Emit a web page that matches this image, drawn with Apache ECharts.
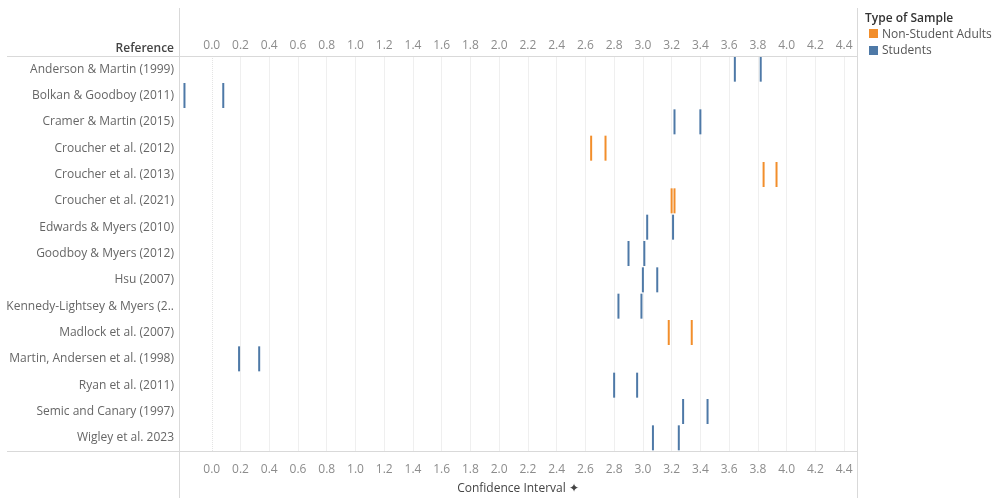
<!DOCTYPE html>
<html>
<head>
<meta charset="utf-8">
<script src="https://cdn.jsdelivr.net/npm/echarts@6/dist/echarts.min.js"></script>
<style>html,body{margin:0;padding:0;background:#fff;}#c{width:997px;height:498px;}</style>
</head>
<body>
<div id="c"></div>
<script>
var categories = ["Anderson & Martin (1999)","Bolkan & Goodboy (2011)","Cramer & Martin (2015)","Croucher et al. (2012)","Croucher et al. (2013)","Croucher et al. (2021)","Edwards & Myers (2010)","Goodboy & Myers (2012)","Hsu (2007)","Kennedy-Lightsey & Myers (2..","Madlock et al. (2007)","Martin, Andersen et al. (1998)","Ryan et al. (2011)","Semic and Canary (1997)","Wigley et al. 2023"];
var lowValues  = [3.64,-0.19,3.22,2.64,3.84,3.20,3.03,2.90,3.00,2.83,3.18,0.19,2.80,3.28,3.07];
var highValues = [3.82, 0.08,3.40,2.74,3.93,3.22,3.21,3.01,3.10,2.99,3.34,0.33,2.96,3.45,3.25];
var sampleType = ["Students","Students","Students","Non-Student Adults","Non-Student Adults","Non-Student Adults","Students","Students","Students","Students","Non-Student Adults","Students","Students","Students","Students"];
var typeNames = ["Non-Student Adults","Students"];
var typeColors = ["#F28E2B","#4E79A7"];
var tickValues = [0.0,0.2,0.4,0.6,0.8,1.0,1.2,1.4,1.6,1.8,2.0,2.2,2.4,2.6,2.8,3.0,3.2,3.4,3.6,3.8,4.0,4.2,4.4];

var FONT = "'Open Sans', sans-serif";
function pts(t){
  var d=[];
  for(var i=0;i<categories.length;i++){
    if(sampleType[i]===t){ d.push([lowValues[i],categories[i]]); d.push([highValues[i],categories[i]]); }
  }
  return d;
}
function fmt(v){
  for(var i=0;i<tickValues.length;i++){ if(Math.abs(v-tickValues[i])<1e-6) return tickValues[i].toFixed(1); }
  return '';
}
function xAxisDef(pos, margin){
  return {
    type:'value', min:-0.228, max:4.49, splitNumber:23, position:pos,
    axisLine:{show:false}, axisTick:{show:false}, splitLine:{show:false},
    axisLabel:{formatter:fmt, color:'#8c8c8c', fontFamily:FONT, fontSize:12, margin:margin, showMinLabel:false, showMaxLabel:false}
  };
}
var bottomAxis = xAxisDef('bottom', 13);
bottomAxis.name = 'Confidence Interval ✦';
bottomAxis.nameLocation = 'middle';
bottomAxis.nameGap = 32;
bottomAxis.nameTextStyle = {color:'#444', fontFamily:FONT, fontSize:12};

var gridLines = tickValues.map(function(v){
  return {xAxis:v, lineStyle:{color: v===0 ? '#e4e4e4' : '#efefef', type: v===0 ? 'dotted' : 'solid', width:1}};
});

var series = typeNames.map(function(t,i){
  return {type:'scatter', name:t, xAxisIndex:0, data:pts(t), symbol:'rect', symbolSize:[2,25],
    itemStyle:{color:typeColors[i], opacity:1}, z:3};
});
series[0].markLine = {silent:true, symbol:['none','none'], label:{show:false}, animation:false, z:1, data:gridLines};

var chart = echarts.init(document.getElementById('c'));
chart.setOption({
  animation:false,
  grid:{left:179, right:140, top:56, bottom:47, containLabel:false, outerBoundsMode:'none'},
  xAxis:[bottomAxis, xAxisDef('top', 4)],
  yAxis:{type:'category', data:categories, inverse:true,
    axisLine:{show:false}, axisTick:{show:false}, splitLine:{show:false},
    axisLabel:{color:'#666', fontFamily:FONT, fontSize:12, margin:5}},
  series: series,
  legend:{show:false},
  graphic:[
    {type:'line', shape:{x1:179.5,y1:8,x2:179.5,y2:498}, style:{stroke:'#d9d9d9', lineWidth:1}, z:10},
    {type:'line', shape:{x1:857.5,y1:8,x2:857.5,y2:498}, style:{stroke:'#d9d9d9', lineWidth:1}, z:10},
    {type:'line', shape:{x1:7,y1:56.5,x2:857,y2:56.5}, style:{stroke:'#d9d9d9', lineWidth:1}, z:10},
    {type:'line', shape:{x1:7,y1:451.5,x2:857,y2:451.5}, style:{stroke:'#d9d9d9', lineWidth:1}, z:10},
    {type:'text', right:997-174, top:43, style:{text:'Reference', fill:'#444', font:"600 12px "+FONT, textAlign:'right'}},
    {type:'text', left:865, top:13, style:{text:'Type of Sample', fill:'#333', font:"600 12px "+FONT}},
    {type:'rect', shape:{x:869,y:29,width:9,height:9}, style:{fill:typeColors[0]}},
    {type:'text', left:882, top:29, style:{text:typeNames[0], fill:'#555', font:"12px "+FONT}},
    {type:'rect', shape:{x:869,y:46,width:9,height:9}, style:{fill:typeColors[1]}},
    {type:'text', left:882, top:45, style:{text:typeNames[1], fill:'#555', font:"12px "+FONT}}
  ]
});
</script>
</body>
</html>
